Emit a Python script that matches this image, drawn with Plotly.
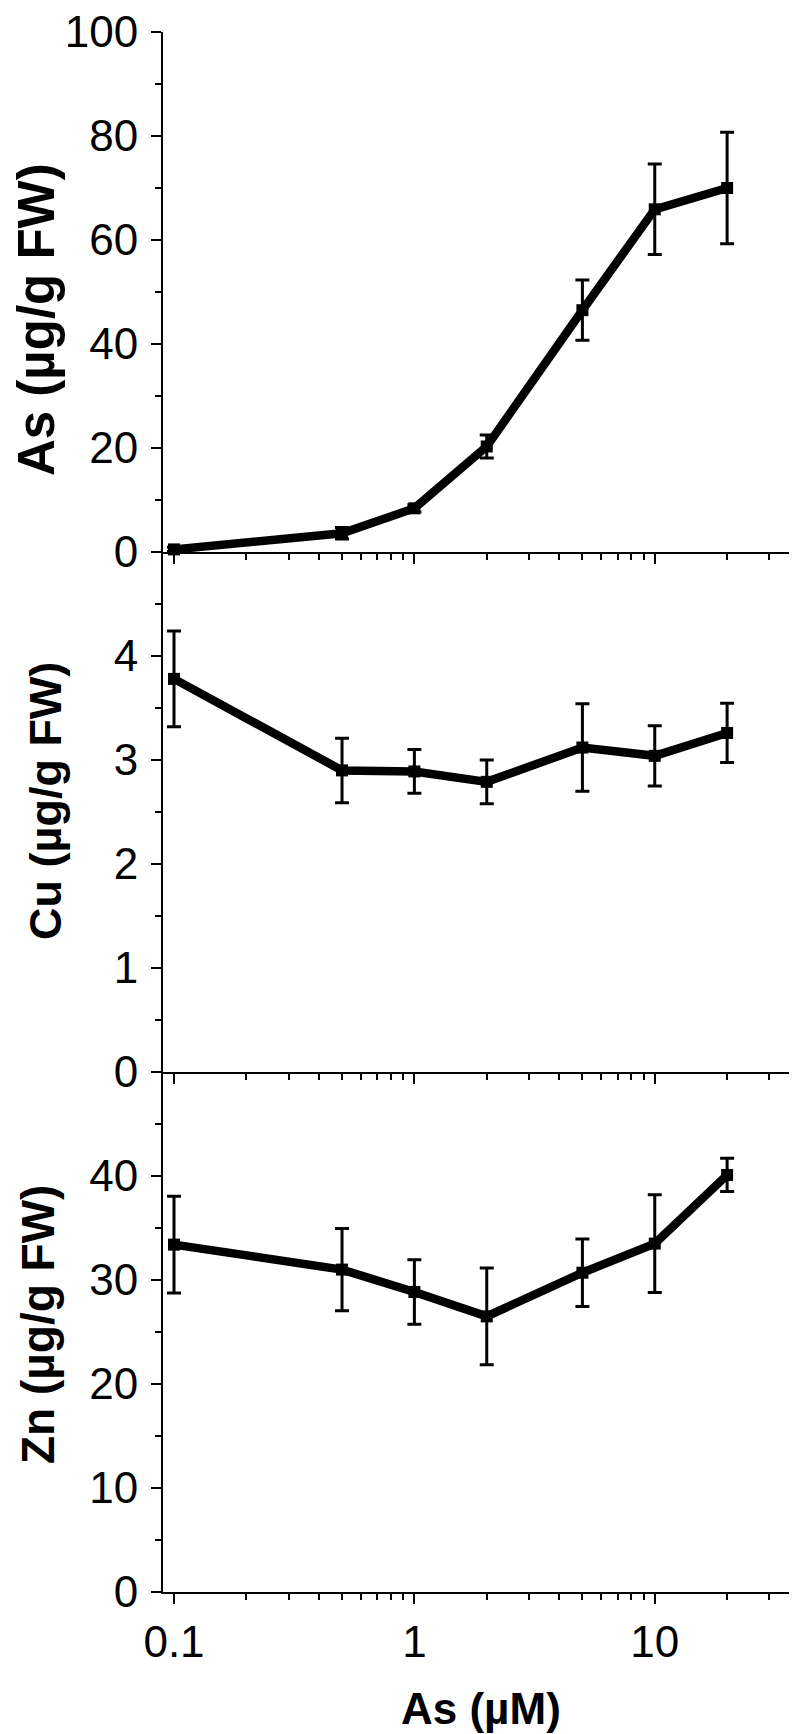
import math
import plotly.graph_objects as go
from plotly.subplots import make_subplots

# ---- data ----
as_conc = [0.1, 0.5, 1, 2, 5, 10, 20]          # As supply (µM)
as_content = [0.5, 3.6, 8.4, 20.3, 46.5, 65.9, 70.0]
as_err = [0.4, 1.1, 0.7, 2.2, 5.8, 8.7, 10.7]
cu_content = [3.78, 2.90, 2.89, 2.79, 3.12, 3.04, 3.26]
cu_err = [0.46, 0.31, 0.21, 0.21, 0.42, 0.29, 0.285]
zn_content = [33.4, 31.0, 28.85, 26.5, 30.7, 33.5, 40.1]
zn_err = [4.65, 3.95, 3.1, 4.65, 3.25, 4.7, 1.6]

x_major = [0.1, 1, 10]
x_major_text = ["0.1", "1", "10"]
x_minor = [0.2, 0.3, 0.4, 0.5, 0.6, 0.7, 0.8, 0.9,
           2, 3, 4, 5, 6, 7, 8, 9, 20, 30, 40]

y_titles = ["As (µg/g FW)", "Cu (µg/g FW)", "Zn (µg/g FW)"]
x_title = "As (µM)"

FONT = "Liberation Sans, Arial, Helvetica, sans-serif"

W, H = 797, 1734
L, R, T, B = 155, 5, 24, 150

fig = make_subplots(rows=3, cols=1, shared_xaxes=True, vertical_spacing=0)

series = [(as_content, as_err), (cu_content, cu_err), (zn_content, zn_err)]
for i, (vals, errs) in enumerate(series, start=1):
    fig.add_trace(go.Scatter(
        x=as_conc, y=vals, mode="lines+markers",
        line=dict(color="black", width=8.5),
        marker=dict(symbol="square", size=12, color="black"),
        error_y=dict(type="data", array=errs, visible=True,
                     thickness=3, width=7, color="black"),
        showlegend=False, cliponaxis=False,
    ), row=i, col=1)

y_ranges = [[0, 100], [0, 5], [0, 50]]
y_major = [[0, 20, 40, 60, 80, 100], [0, 1, 2, 3, 4], [0, 10, 20, 30, 40]]
y_minor = [[10, 30, 50, 70, 90], [0.5, 1.5, 2.5, 3.5, 4.5],
           [5, 15, 25, 35, 45]]

for i in range(3):
    fig.update_yaxes(
        range=y_ranges[i], tickmode="array", tickvals=y_major[i],
        ticks="outside", ticklen=10, tickwidth=2, tickcolor="black",
        showline=True, linecolor="black", linewidth=2,
        showgrid=False, zeroline=False, automargin=False,
        ticklabeloverflow="allow",
        tickfont=dict(family=FONT, size=44, color="black"),
        ticklabelstandoff=4,
        minor=dict(tickmode="array", tickvals=y_minor[i], ticks="outside",
                   ticklen=6, tickwidth=2, tickcolor="black", showgrid=False),
        row=i + 1, col=1)
    fig.update_xaxes(
        type="log", range=[math.log10(0.09), math.log10(40.2)],
        tickmode="array", tickvals=x_major, ticktext=x_major_text,
        ticks="outside", ticklen=10, tickwidth=2, tickcolor="black",
        showline=True, linecolor="black", linewidth=2,
        showgrid=False, zeroline=False, automargin=False,
        ticklabeloverflow="allow",
        tickfont=dict(family=FONT, size=44, color="black"),
        minor=dict(tickmode="array", tickvals=x_minor, ticks="outside",
                   ticklen=6, tickwidth=2, tickcolor="black", showgrid=False),
        row=i + 1, col=1)

fig.update_xaxes(showticklabels=True, row=3, col=1)

pw = W - L - R
ph = H - T - B


def px_x(p):
    return (p - L) / pw


def px_y(p):
    return (H - B - p) / ph


title_pos = [(28, 312), (37, 793), (30, 1317)]
title_sizes = [51, 45, 46]
for txt, (xp, yp), fs in zip(y_titles, title_pos, title_sizes):
    fig.add_annotation(text="<b>" + txt + "</b>", xref="paper", yref="paper",
                       x=px_x(xp), y=px_y(yp), xanchor="center",
                       yanchor="middle", textangle=-90, showarrow=False,
                       font=dict(family=FONT, size=fs, color="black"))

fig.add_annotation(text="<b>" + x_title + "</b>", xref="paper", yref="paper",
                   x=px_x(473), y=px_y(1700), xanchor="center",
                   yanchor="middle", showarrow=False,
                   font=dict(family=FONT, size=44, color="black"))

fig.update_layout(width=W, height=H, margin=dict(l=L, r=R, t=T, b=B),
                  paper_bgcolor="white", plot_bgcolor="white")

fig.write_html("out.html")
